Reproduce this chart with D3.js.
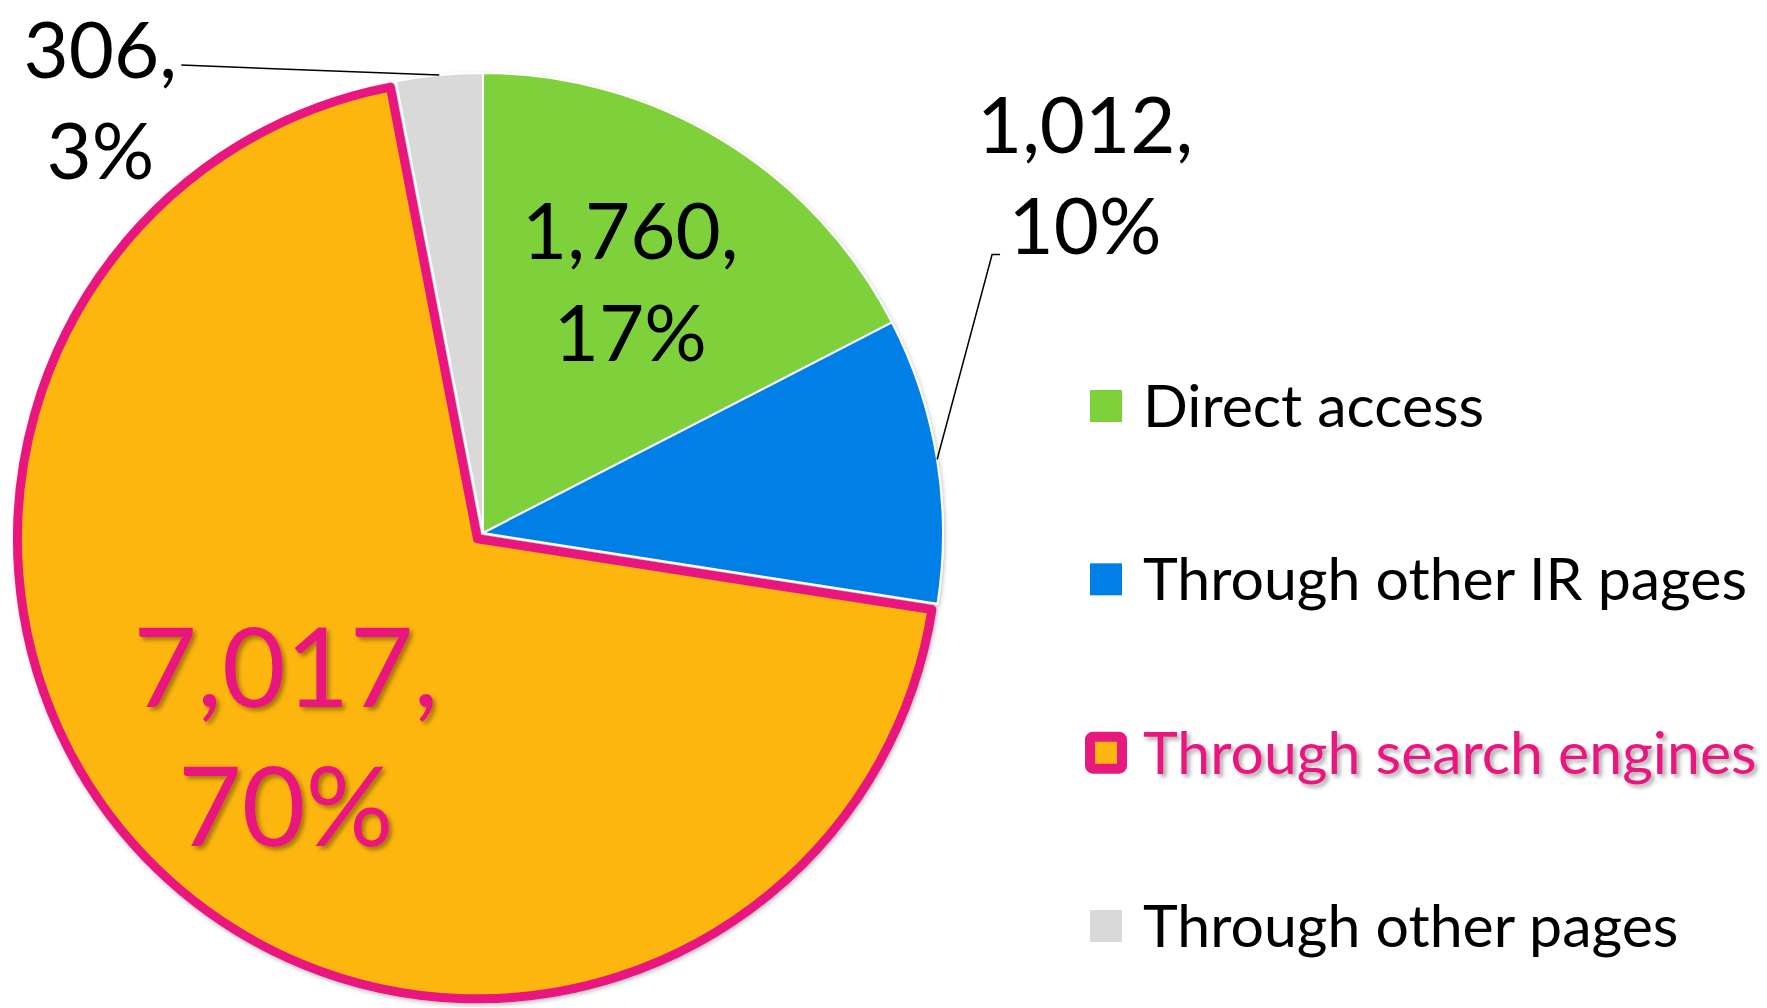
<!DOCTYPE html>
<html>
<head>
  <meta charset="utf-8">
  <title>Access routes</title>
  <style type="text/css">
    body { margin: 0; background: #fff; }
    text { font-family: Lato, "Open Sans", sans-serif; fill: #000; }
  </style>
</head>
<body>
  <script src="https://cdn.jsdelivr.net/npm/d3@7"></script>
  <script type="text/javascript">
    // data
    var categories = ["Direct access", "Through other IR pages", "Through search engines", "Through other pages"];
    var values = [1760, 1012, 7017, 306];
    var colors = ["#7FD13B", "#0080E6", "#FDB60E", "#D9D9D9"];
    var highlight = "Through search engines";
    var pink = "#E8197E";

    var w = 1767, h = 1008;
    var cx = 483, cy = 533, r = 460;
    var explode = 8;

    var total = d3.sum(values);
    var pct = function(v) { return Math.round(v / total * 100) + "%"; };
    var fmt = d3.format(",");

    var svg = d3.select("body").append("svg")
      .attr("width", w)
      .attr("height", h);

    var defs = svg.append("defs");
    defs.append("filter").attr("id", "pieShadow")
      .attr("x", "-10%").attr("y", "-10%").attr("width", "120%").attr("height", "120%")
      .append("feDropShadow")
      .attr("dx", 1).attr("dy", 2).attr("stdDeviation", 2)
      .attr("flood-color", "#000").attr("flood-opacity", 0.25);
    defs.append("filter").attr("id", "textShadow")
      .attr("x", "-10%").attr("y", "-20%").attr("width", "130%").attr("height", "150%")
      .append("feDropShadow")
      .attr("dx", 3).attr("dy", 3).attr("stdDeviation", 2)
      .attr("flood-color", "#000").attr("flood-opacity", 0.35);

    var pie = d3.pie().sort(null).value(d => d.value);
    var data = pie(categories.map((c, i) => ({ name: c, value: values[i], color: colors[i] })));

    var arc = d3.arc().innerRadius(0).outerRadius(r);
    var edgeArc = d3.arc().innerRadius(r).outerRadius(r);

    // offset of a slice (only the highlighted one is pulled out)
    function shift(d) {
      if (d.data.name !== highlight) return [0, 0];
      var a = (d.startAngle + d.endAngle) / 2;
      return [explode * Math.sin(a), -explode * Math.cos(a)];
    }

    var g = svg.append("g")
      .attr("transform", "translate(" + cx + "," + cy + ")")
      .attr("filter", "url(#pieShadow)");

    // draw the highlighted slice last so its border stays on top
    var order = data.slice().sort((a, b) => (a.data.name === highlight) - (b.data.name === highlight));

    g.selectAll("path")
      .data(order)
      .enter()
      .append("path")
      .attr("d", arc)
      .attr("transform", d => "translate(" + shift(d) + ")")
      .attr("fill", d => d.data.color)
      .attr("stroke", d => d.data.name === highlight ? pink : "#fff")
      .attr("stroke-width", d => d.data.name === highlight ? 9 : 2)
      .attr("stroke-linejoin", "round");

    // data labels
    var labelCfg = {
      "Direct access":          { inside: true, k: 0.64, size: 78, gap: 102 },
      "Through other IR pages": { inside: false, dx: 148, dy: -284, size: 78, gap: 101,
                                  leader: [[-93, 79], [-85, 79]] },
      "Through search engines": { inside: true, k: 0.6, size: 110, gap: 139 },
      "Through other pages":    { inside: false, dx: -339, dy: 25, size: 78, gap: 101,
                                  leader: [[81, -35]] }
    };

    var labels = svg.append("g").attr("transform", "translate(" + cx + "," + cy + ")");

    data.forEach(function(d) {
      var c = labelCfg[d.data.name];
      var s = shift(d);
      var edge = edgeArc.centroid(d);
      var pos;
      if (c.inside) {
        pos = d3.arc().innerRadius(c.k * r).outerRadius(c.k * r).centroid(d);
        pos = [pos[0] + s[0] - (d.data.name === highlight ? 0 : 6), pos[1] + s[1]];
      } else {
        pos = [edge[0] + c.dx, edge[1] + c.dy];
        var pts = [edge].concat(c.leader.map(p => [pos[0] + p[0], pos[1] + p[1]]));
        labels.append("path")
          .attr("d", d3.line()(pts))
          .attr("fill", "none")
          .attr("stroke", "#000")
          .attr("stroke-width", 1.5);
      }
      var isHi = d.data.name === highlight;
      var capH = c.size * 0.72;
      var blockTop = pos[1] - (capH + c.gap) / 2;
      var t = labels.append("text")
        .attr("text-anchor", "middle")
        .style("font-size", c.size + "px")
        .style("fill", isHi ? pink : "#000");
      if (isHi) t.attr("filter", "url(#textShadow)");
      t.append("tspan").attr("x", pos[0]).attr("y", blockTop + capH).text(fmt(d.data.value) + ",");
      t.append("tspan").attr("x", pos[0]).attr("y", blockTop + capH + c.gap).text(pct(d.data.value));
    });

    // legend
    var ly = d3.scalePoint().domain(categories).range([406, 926]);
    var legend = svg.append("g");
    var item = legend.selectAll("g")
      .data(data)
      .enter()
      .append("g")
      .attr("transform", d => "translate(1090," + ly(d.data.name) + ")");

    item.append("rect")
      .attr("x", d => d.data.name === highlight ? 0 : 0)
      .attr("y", d => d.data.name === highlight ? -16 : -16)
      .attr("width", 32)
      .attr("height", 32)
      .attr("rx", d => d.data.name === highlight ? 3 : 0)
      .attr("fill", d => d.data.color)
      .attr("stroke", d => d.data.name === highlight ? pink : "none")
      .attr("stroke-width", 10);

    item.append("text")
      .attr("x", 53)
      .attr("y", 21)
      .style("font-size", "59px")
      .style("fill", d => d.data.name === highlight ? pink : "#000")
      .attr("filter", d => d.data.name === highlight ? "url(#textShadow)" : null)
      .text(d => d.data.name);
  </script>
</body>
</html>
